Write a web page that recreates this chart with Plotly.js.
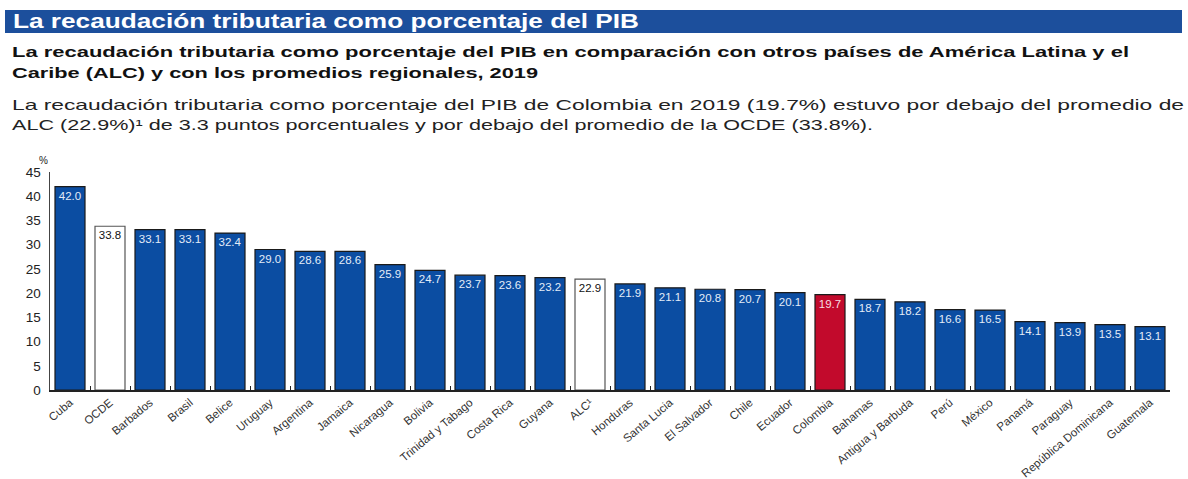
<!DOCTYPE html>
<html>
<head>
<meta charset="utf-8">
<script src="https://cdn.plot.ly/plotly-3.0.1.min.js"></script>
<style>
html,body{margin:0;padding:0;background:#fff;}
#chart{width:1188px;height:479px;}
</style>
</head>
<body>
<div id="chart"></div>
<script>
const categories = ["Cuba","OCDE","Barbados","Brasil","Belice","Uruguay","Argentina","Jamaica","Nicaragua","Bolivia","Trinidad y Tabago","Costa Rica","Guyana","ALC¹","Honduras","Santa Lucia","El Salvador","Chile","Ecuador","Colombia","Bahamas","Antigua y Barbuda","Perú","México","Panamá","Paraguay","República Dominicana","Guatemala"];
const values = [42.0,33.8,33.1,33.1,32.4,29.0,28.6,28.6,25.9,24.7,23.7,23.6,23.2,22.9,21.9,21.1,20.8,20.7,20.1,19.7,18.7,18.2,16.6,16.5,14.1,13.9,13.5,13.1];
const groups = ["country","average","country","country","country","country","country","country","country","country","country","country","country","average","country","country","country","country","country","colombia","country","country","country","country","country","country","country","country"];
const yTicks = [0,5,10,15,20,25,30,35,40,45];

const headerTitle = "La recaudación tributaria como porcentaje del PIB";
const subtitleLines = ["La recaudación tributaria como porcentaje del PIB en comparación con otros países de América Latina y el","Caribe (ALC) y con los promedios regionales, 2019"];
const paragraphLines = ["La recaudación tributaria como porcentaje del PIB de Colombia en 2019 (19.7%) estuvo por debajo del promedio de","ALC (22.9%)¹ de 3.3 puntos porcentuales y por debajo del promedio de la OCDE (33.8%)."];

const fillByGroup = {country:"#0b4da2", average:"#ffffff", colombia:"#c20a2c"};
const lineByGroup = {country:"#1a1a1a", average:"#555555", colombia:"#1a1a1a"};
const textByGroup = {country:"#e3ecf8", average:"#111111", colombia:"#f5dfe3"};

const font = "Liberation Sans, Arial, sans-serif";

const trace = {
  type:"bar",
  x:categories,
  y:values,
  text:values.map(v=>v.toFixed(1)),
  textposition:"inside",
  insidetextanchor:"end",
  textangle:0,
  constraintext:"none",
  textfont:{family:font, size:11.5, color:groups.map(g=>textByGroup[g])},
  marker:{color:groups.map(g=>fillByGroup[g]), line:{color:groups.map(g=>lineByGroup[g]), width:1.2}},
  hoverinfo:"x+y",
  cliponaxis:false
};

// page geometry helpers (plot area: l=50, width 1120, bottom at 390, height 218)
const px = x => (x-50)/1120;
const py = y => (390-y)/218;

const ann = [];
const stretch = []; // target widths in px for annotation texts
ann.push({xref:"paper",yref:"paper",x:px(11),y:py(21),xanchor:"left",yanchor:"middle",align:"left",text:"<b>"+headerTitle+"</b>",showarrow:false,font:{family:font,size:20,color:"#ffffff"}});
stretch.push(626);
const subW=[1117,526];
subtitleLines.forEach((t,i)=>{ann.push({xref:"paper",yref:"paper",x:px(10),y:py(51+i*22),xanchor:"left",yanchor:"middle",align:"left",text:"<b>"+t+"</b>",showarrow:false,font:{family:font,size:15.5,color:"#111111"}});stretch.push(subW[i]);});
const parW=[1172,861];
paragraphLines.forEach((t,i)=>{ann.push({xref:"paper",yref:"paper",x:px(10),y:py(105+i*19),xanchor:"left",yanchor:"middle",align:"left",text:t,showarrow:false,font:{family:font,size:15,color:"#222222"}});stretch.push(parW[i]);});
ann.push({xref:"paper",yref:"paper",x:px(43),y:py(160),xanchor:"center",yanchor:"middle",text:"%",showarrow:false,font:{family:font,size:10,color:"#222"}});
stretch.push(null);

const layout = {
  width:1188,height:479,
  margin:{l:50,r:18,t:172,b:89},
  paper_bgcolor:"#ffffff",plot_bgcolor:"#ffffff",
  showlegend:false,
  bargap:0.25,
  xaxis:{type:"category",range:[-0.5,27.5],tickson:"boundaries",ticks:"inside",ticklen:4,tickcolor:"#222",
    showline:true,linecolor:"#222",linewidth:1.5,tickangle:-40,
    tickfont:{family:font,size:11.5,color:"#333"},showgrid:false,zeroline:false,fixedrange:true},
  yaxis:{range:[0,45],tickvals:yTicks,ticks:"",showline:true,linecolor:"#444",linewidth:1.5,
    tickfont:{family:font,size:13.5,color:"#222"},showgrid:false,zeroline:false,ticklabelstandoff:5,fixedrange:true},
  shapes:[{type:"rect",xref:"paper",yref:"paper",x0:px(5),x1:px(1182),y0:py(33),y1:py(10),fillcolor:"#1c4f9c",line:{width:0},layer:"below"}],
  annotations:ann
};

Plotly.newPlot("chart",[trace],layout,{displayModeBar:false,staticPlot:true}).then(gd=>{
  gd.querySelectorAll("g.annotation").forEach(g=>{
    const i = +g.getAttribute("data-index");
    const w = stretch[i];
    if(!w) return;
    const t = g.querySelector("text.annotation-text");
    if(t){ t.setAttribute("textLength", w); t.setAttribute("lengthAdjust","spacingAndGlyphs"); }
  });
});
</script>
</body>
</html>
